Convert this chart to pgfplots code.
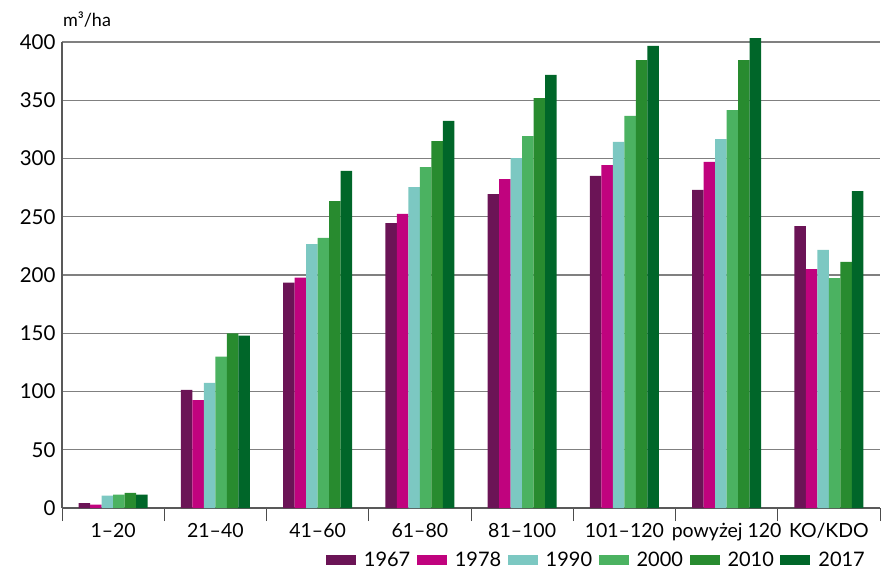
\documentclass[border=0pt]{standalone}
\usepackage{fontspec}
\setmainfont{Lato}
\usepackage{pgfplots}
\pgfplotsset{compat=1.18}
\definecolor{cA}{HTML}{6B1456}
\definecolor{cB}{HTML}{C0037E}
\definecolor{cC}{HTML}{7CC8C2}
\definecolor{cD}{HTML}{4BB261}
\definecolor{cE}{HTML}{288B2F}
\definecolor{cF}{HTML}{006629}
\begin{document}
\begin{tikzpicture}
\begin{axis}[
  scale only axis, width=818pt, height=466pt,
  ybar=0pt, bar width=11.5pt,
  xmin=-0.5, xmax=7.5, ymin=0, ymax=400,
  clip=false,
  xtick={-0.5,0.5,...,7.5},
  x tick label as interval,
  xticklabels={1–20,21–40,41–60,61–80,81–100,101–120,powyżej 120,KO/KDO},
  x tick style={draw=black!70, line width=0.9pt},
  xtick align=outside,
  major tick length=13pt,
  ytick={0,50,...,400},
  y tick style={draw=none},
  ymajorgrids, grid style={black!50, line width=1.1pt},
  axis x line*=bottom, axis y line*=left,
  axis line style={black!65, line width=1.3pt},
  xticklabel style={font=\fontsize{19.5}{22}\selectfont, yshift=1pt},
  yticklabel style={font=\fontsize{20.5}{23}\selectfont, xshift=-3pt},
  /pgf/number format/assume math mode=true,
  legend image code/.code={\fill[#1] (0pt,-5pt) rectangle (30pt,5pt);},
  legend style={draw=none, fill=none, inner sep=0pt,
    at={(axis description cs:0.9817,-0.1116)}, anchor=east,
    legend columns=-1, font=\fontsize{20}{23}\selectfont,
    nodes={inner xsep=0pt},
    /tikz/every even column/.append style={column sep=6.5pt},
    /tikz/every odd column/.append style={column sep=8pt}},
]
\addplot[fill=cA, draw=none] coordinates {(0,4.1) (1,101.3) (2,193.4) (3,244.6) (4,269.5) (5,285) (6,273) (7,242)};
\addplot[fill=cB, draw=none] coordinates {(0,2.8) (1,92.7) (2,197.7) (3,252.4) (4,282.4) (5,294.4) (6,297) (7,205)};
\addplot[fill=cC, draw=none] coordinates {(0,10.6) (1,107.5) (2,226.6) (3,275.5) (4,300.4) (5,314.2) (6,316.7) (7,221.5)};
\addplot[fill=cD, draw=none] coordinates {(0,11.4) (1,130) (2,231.8) (3,292.7) (4,319.3) (5,336.5) (6,341.6) (7,197.4)};
\addplot[fill=cE, draw=none] coordinates {(0,13) (1,150) (2,263.5) (3,315) (4,351.9) (5,384.5) (6,384.5) (7,211.2)};
\addplot[fill=cF, draw=none] coordinates {(0,11.4) (1,148) (2,289.3) (3,332.2) (4,371.7) (5,396.6) (6,403.4) (7,272)};
\legend{1967,1978,1990,2000,2010,2017}
\node[anchor=base west, font=\fontsize{18}{21}\selectfont, inner sep=0pt] at (axis description cs:0.001,1.0322) {m³/ha};
\coordinate (bl) at (axis description cs:-0.07579,-0.13734);
\coordinate (tr) at (axis description cs:1.00489,1.09013);
\end{axis}
\pgfresetboundingbox
\path (bl) rectangle (tr);
\end{tikzpicture}
\end{document}
